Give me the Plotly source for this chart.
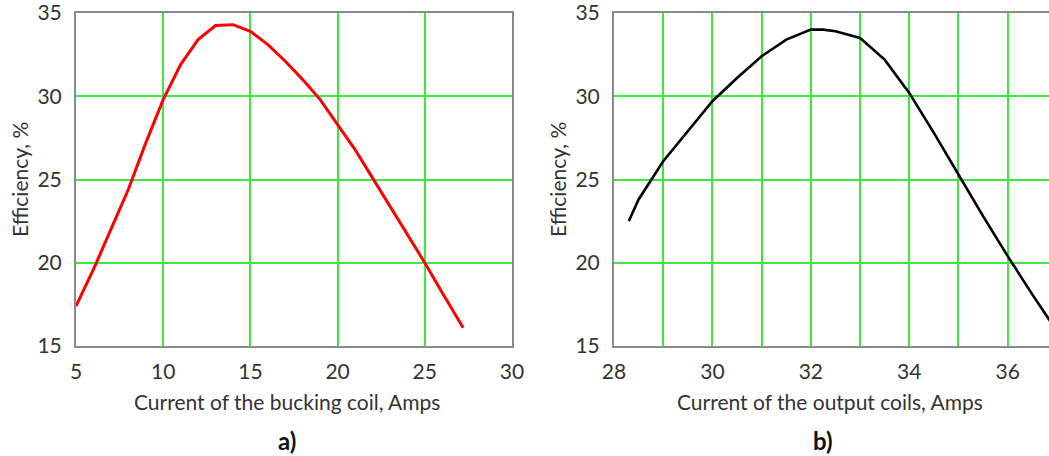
import plotly.graph_objects as go

# Panel a) data: bucking coil current vs efficiency
bucking_current = [5, 6, 7, 8, 9, 10, 11, 12, 13, 14, 15, 16, 17, 18, 19, 20, 21, 22, 23, 24, 25, 26, 27, 27.2]
bucking_eff = [17.4, 19.6, 22.0, 24.4, 27.2, 29.8, 31.9, 33.4, 34.25, 34.3, 33.9, 33.1, 32.1, 31.0, 29.8, 28.3,
               26.8, 25.1, 23.4, 21.7, 20.0, 18.2, 16.4, 16.1]

# Panel b) data: output coils current vs efficiency
output_current = [28.3, 28.5, 29.0, 29.5, 30.0, 30.5, 31.0, 31.5, 32.0, 32.25, 32.5, 33.0, 33.5, 34.0, 34.5,
                  35.0, 35.5, 36.0, 36.5, 37.0]
output_eff = [22.5, 23.8, 26.1, 27.9, 29.7, 31.1, 32.4, 33.4, 34.0, 34.0, 33.9, 33.5, 32.2, 30.2, 27.8,
              25.3, 22.8, 20.4, 18.1, 15.9]

y_ticks = [15, 20, 25, 30, 35]
xa_ticks = [5, 10, 15, 20, 25, 30]
xb_ticks = [28, 30, 32, 34, 36]

W, H = 1049, 456
FONT = "Lato"
TXT = "#333333"
GRID = "#3fe83f"
AXIS = "#8a8a8a"


def px(x):
    return x / W


def py(y):
    return 1 - y / H


fig = go.Figure()
fig.add_trace(go.Scatter(x=bucking_current, y=bucking_eff, mode="lines",
                         line=dict(color="#ff0000", width=3), xaxis="x", yaxis="y",
                         showlegend=False, cliponaxis=True))
fig.add_trace(go.Scatter(x=output_current, y=output_eff, mode="lines",
                         line=dict(color="#000000", width=2.6), xaxis="x2", yaxis="y2",
                         showlegend=False, cliponaxis=True))

ydom = [py(346), py(13)]
common_tick = dict(family=FONT, size=21, color=TXT)
base = dict(showgrid=True, gridcolor=GRID, gridwidth=1.5, showline=True, linecolor=AXIS,
            linewidth=2, ticks="", zeroline=False, tickfont=common_tick, automargin=False,
            ticklabeloverflow="allow")

fig.update_layout(
    template="none",
    width=W, height=H,
    margin=dict(l=0, r=0, t=0, b=0, pad=0, autoexpand=False),
    paper_bgcolor="white", plot_bgcolor="white",
    xaxis=dict(base, domain=[px(76), px(512)], range=[5, 30], tickvals=xa_ticks,
               mirror=True, ticklabelstandoff=6, anchor="y"),
    yaxis=dict(base, domain=ydom, range=[15, 35], tickvals=y_ticks,
               mirror=True, ticklabelstandoff=8, anchor="x"),
    xaxis2=dict(base, domain=[px(614), 1.0], range=[28, 36.84], tickvals=xb_ticks,
                minor=dict(dtick=1, tick0=28, showgrid=True, gridcolor=GRID, gridwidth=1.5, ticks=""),
                mirror=True, ticklabelstandoff=6, anchor="y2"),
    yaxis2=dict(base, domain=ydom, range=[15, 35], tickvals=y_ticks,
                mirror=False, ticklabelstandoff=8, anchor="x2"),
)

ann_font = dict(family=FONT, size=21, color=TXT)
annotations = [
    dict(text="Current of the bucking coil, Amps", x=px(287), y=py(401), font=ann_font),
    dict(text="Current of the output coils, Amps", x=px(830), y=py(401), font=ann_font),
    dict(text="Efficiency, %", x=px(19), y=py(180), textangle=-90, font=ann_font),
    dict(text="Efficiency, %", x=px(557), y=py(180), textangle=-90, font=ann_font),
    dict(text="<b>a)</b>", x=px(287), y=py(440), font=dict(family=FONT, size=24, color="#111111")),
    dict(text="<b>b)</b>", x=px(823), y=py(440), font=dict(family=FONT, size=24, color="#111111")),
]
for a in annotations:
    a.update(xref="paper", yref="paper", showarrow=False, xanchor="center", yanchor="middle")
fig.update_layout(annotations=annotations)

fig.write_html("out.html")
